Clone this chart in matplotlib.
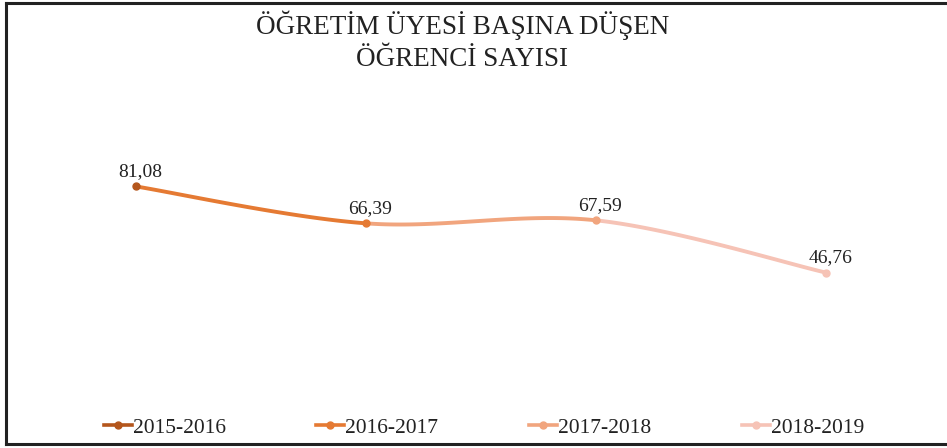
import numpy as np
import matplotlib
matplotlib.use("Agg")
import matplotlib.pyplot as plt
from matplotlib.lines import Line2D

years = ["2015-2016", "2016-2017", "2017-2018", "2018-2019"]
values = [81.08, 66.39, 67.59, 46.76]
labels = ["81,08", "66,39", "67,59", "46,76"]
colors = ["#B4561C", "#E57A33", "#F1A57E", "#F6C3B6"]
title = "ÖĞRETİM ÜYESİ BAŞINA DÜŞEN\nÖĞRENCİ SAYISI"

plt.rcParams['font.family'] = ['Liberation Serif', 'DejaVu Serif']


def bezier_segment(p0, p1, p2, p3, n=60):
    # catmull-rom style smoothing like Excel's smoothed line
    c1 = p1 + (p2 - p0) / 6.0
    c2 = p2 - (p3 - p1) / 6.0
    t = np.linspace(0, 1, n)[:, None]
    return ((1 - t) ** 3 * p1 + 3 * (1 - t) ** 2 * t * c1
            + 3 * (1 - t) * t ** 2 * c2 + t ** 3 * p2)


fig = plt.figure(figsize=(9.47, 4.48), dpi=100)
ax = fig.add_axes([0.0222, 0.1295, 0.9715, 0.5603])

x = np.arange(len(values))
pts = np.column_stack([x, values]).astype(float)
ext = np.vstack([pts[0], pts, pts[-1]])
for i in range(len(pts) - 1):
    seg = bezier_segment(ext[i], ext[i + 1], ext[i + 2], ext[i + 3])
    ax.plot(seg[:, 0], seg[:, 1], color=colors[i + 1], lw=2.8,
            solid_capstyle='round', zorder=2)

for i in range(len(values)):
    ax.plot(x[i], values[i], 'o', color=colors[i], ms=5, zorder=3)
    ax.annotate(labels[i], (x[i], values[i]), xytext=(3, 10.5),
                textcoords='offset points', ha='center', va='center',
                fontsize=14, color='#222222')

ax.set_xlim(-0.5, 3.5)
ax.set_ylim(0, 100)
ax.axis('off')

fig.text(0.488, 0.908, title, ha='center', va='center', fontsize=19.5,
         color='#222222', linespacing=1.32)

handles = [Line2D([0], [0], color=c, lw=2.6, marker='o', ms=5) for c in colors]
fig.legend(handles, years, loc='center', bbox_to_anchor=(0.511, 0.045),
           ncol=4, frameon=False, fontsize=15.5, handlelength=1.3,
           handletextpad=0.05, columnspacing=4.2, labelcolor='#222222')

# outer frame
fig.add_artist(plt.Line2D([0.0063, 0.0063], [0.0089, 0.9933], transform=fig.transFigure,
                          color='#222222', lw=2.2))
fig.add_artist(plt.Line2D([0.0063, 1.0], [0.9933, 0.9933], transform=fig.transFigure,
                          color='#222222', lw=2.2))
fig.add_artist(plt.Line2D([0.0063, 1.0], [0.0089, 0.0089], transform=fig.transFigure,
                          color='#222222', lw=2.2))

fig.savefig("out.png", dpi=100)
